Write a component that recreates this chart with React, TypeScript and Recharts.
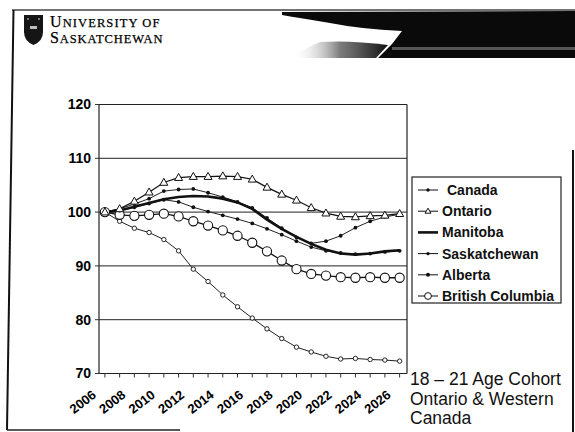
import React from 'react';
import { LineChart, Line, XAxis, YAxis, CartesianGrid, ReferenceLine } from 'recharts';

const years = [2006, 2007, 2008, 2009, 2010, 2011, 2012, 2013, 2014, 2015, 2016, 2017, 2018, 2019, 2020, 2021, 2022, 2023, 2024, 2025, 2026];
const canada = [100, 100.3, 100.9, 101.6, 102.3, 101.9, 100.9, 100.1, 99.4, 98.7, 97.9, 96.9, 95.8, 94.6, 93.5, 92.8, 92.4, 92.2, 92.3, 92.6, 92.8];
const ontario = [100, 100.6, 102.0, 103.7, 105.5, 106.4, 106.6, 106.6, 106.7, 106.6, 106.1, 104.6, 103.3, 102.2, 100.8, 99.8, 99.2, 99.1, 99.3, 99.4, 99.7];
const manitoba = [100, 100.3, 101.0, 101.7, 102.4, 102.8, 103.0, 102.9, 102.5, 101.8, 100.6, 98.6, 96.9, 95.4, 94.1, 93.0, 92.3, 92.1, 92.3, 92.7, 92.9];
const saskatchewan = [100, 98.3, 97.0, 96.2, 94.9, 92.8, 89.4, 87.1, 84.6, 82.4, 80.3, 78.3, 76.5, 74.9, 74.0, 73.2, 72.7, 72.8, 72.6, 72.5, 72.3];
const alberta = [100, 100.6, 101.5, 102.5, 103.9, 104.2, 104.3, 103.6, 102.8, 101.9, 100.8, 98.9, 97.0, 95.3, 94.2, 94.6, 95.6, 97.1, 98.3, 99.1, 99.6];
const britishColumbia = [100, 99.5, 99.3, 99.5, 99.7, 99.2, 98.3, 97.5, 96.6, 95.6, 94.3, 92.7, 91.0, 89.4, 88.5, 88.2, 87.9, 87.8, 87.9, 87.8, 87.8];

const yTicks = [70, 80, 90, 100, 110, 120];
const xLabelYears = [2006, 2008, 2010, 2012, 2014, 2016, 2018, 2020, 2022, 2024, 2026];
const legendNames = ['Canada', 'Ontario', 'Manitoba', 'Saskatchewan', 'Alberta', 'British Columbia'];
const noteLines = ['18 \u2013 21 Age Cohort', 'Ontario & Western', 'Canada'];

const data = years.map((y, i) => ({
  year: y,
  canada: canada[i],
  ontario: ontario[i],
  manitoba: manitoba[i],
  saskatchewan: saskatchewan[i],
  alberta: alberta[i],
  bc: britishColumbia[i],
}));

const FONT = '"Liberation Sans", Arial, Helvetica, sans-serif';
const SERIF = '"Liberation Serif", "Times New Roman", serif';

const smallFilled = (p: any) => (
  <circle key={`sf-${p.dataKey}-${p.index}`} cx={p.cx} cy={p.cy} r={1.9} fill="#111" stroke="none" />
);
const smallOpen = (p: any) => (
  <circle key={`so-${p.index}`} cx={p.cx} cy={p.cy} r={2.2} fill="#fff" stroke="#111" strokeWidth={0.9} />
);
const triangle = (p: any) => (
  <path
    key={`tr-${p.index}`}
    d={`M${p.cx},${p.cy - 4.2} L${p.cx + 4},${p.cy + 2.8} L${p.cx - 4},${p.cy + 2.8} Z`}
    fill="#fff"
    stroke="#111"
    strokeWidth={1}
  />
);
const bigCircle = (p: any) => (
  <circle key={`bc-${p.index}`} cx={p.cx} cy={p.cy} r={4.6} fill="#fff" stroke="#111" strokeWidth={1.1} />
);

const XTick = (props: any) => {
  const { x, y, payload } = props;
  if (!xLabelYears.includes(payload.value)) return null;
  const ax = x - 8;
  const ay = y + 17;
  return (
    <text
      x={ax}
      y={ay}
      transform={`rotate(-38, ${ax}, ${ay})`}
      textAnchor="end"
      fontFamily={FONT}
      fontWeight="bold"
      fontSize={13}
      fill="#000"
    >
      {payload.value}
    </text>
  );
};

const legendMarker = (i: number) => {
  const cx = 428;
  if (i === 0 || i === 3) return <circle cx={cx} cy={0} r={1.7} fill="#111" />;
  if (i === 4) return <circle cx={cx} cy={0} r={2} fill="#111" />;
  if (i === 1) return <path d={`M${cx},-3 L${cx + 3},2 L${cx - 3},2 Z`} fill="#fff" stroke="#111" strokeWidth={1} />;
  if (i === 5) return <circle cx={cx} cy={0} r={3.4} fill="#fff" stroke="#111" strokeWidth={1} />;
  return null;
};

export default function App() {
  return (
    <div style={{ position: 'fixed', left: 0, top: 0, width: 575, height: 432, background: '#fff', overflow: 'hidden' }}>
      <svg width={575} height={432} style={{ position: 'absolute', left: 0, top: 0 }}>
        <line x1={12} y1={10} x2={575} y2={10} stroke="#444" strokeWidth={1.5} />
        <line x1={13.5} y1={10} x2={7} y2={430} stroke="#111" strokeWidth={2} />
        <line x1={7} y1={430} x2={180} y2={430} stroke="#222" strokeWidth={1.6} />
        <line x1={573} y1={150} x2={573} y2={432} stroke="#111" strokeWidth={2} />
        <defs>
          <linearGradient id="sweep" x1="0" y1="0" x2="1" y2="0">
            <stop offset="0" stopColor="#fff" stopOpacity="0" />
            <stop offset="0.5" stopColor="#444" stopOpacity="0.7" />
            <stop offset="1" stopColor="#111" stopOpacity="1" />
          </linearGradient>
        </defs>
        <path d="M282,12 L575,11 L575,58 L378,58 L392,44 L402,31 Q360,29 330,23 Q300,18 282,15 Z" fill="#0a0a0a" />
        <path d="M292,58 L376,58 L388,45 Q350,40 320,42 Q300,50 292,58 Z" fill="url(#sweep)" />
        <rect x={392} y={47} width={183} height={3} fill="#555" />
        <path d="M24,15 L43,15 L43,32 Q43,41 33.5,45 Q24,41 24,32 Z" fill="#151515" />
        <rect x={30} y={26} width={7} height={3} fill="#bbb" />
        <circle cx={28} cy={19} r={1} fill="#999" />
        <circle cx={39} cy={19} r={1} fill="#999" />
        <text x={50} y={27} fontFamily={SERIF} fill="#000" stroke="#000" strokeWidth={0.25} letterSpacing={1.1}>
          <tspan fontSize={16}>U</tspan>
          <tspan fontSize={12.5}>NIVERSITY OF</tspan>
        </text>
        <text x={50} y={42.5} fontFamily={SERIF} fill="#000" stroke="#000" strokeWidth={0.25} letterSpacing={0.9}>
          <tspan fontSize={16}>S</tspan>
          <tspan fontSize={12.5}>ASKATCHEWAN</tspan>
        </text>
      </svg>

      <div style={{ position: 'absolute', left: 0, top: 0 }}>
        <LineChart width={575} height={432} data={data} margin={{ top: 104.5, right: 168, bottom: 8.5, left: 59 }}>
          <CartesianGrid vertical={false} stroke="#222" strokeWidth={1} />
          <XAxis
            dataKey="year"
            type="number"
            domain={[2005.6, 2026.5]}
            allowDataOverflow
            ticks={years}
            interval={0}
            tick={<XTick />}
            tickSize={4}
            tickMargin={2}
            height={50}
            axisLine={{ stroke: '#222', strokeWidth: 1.2 }}
            tickLine={{ stroke: '#333', strokeWidth: 1 }}
          />
          <YAxis
            domain={[70, 120]}
            ticks={yTicks}
            interval={0}
            width={40}
            tickSize={4}
            tickMargin={4}
            axisLine={{ stroke: '#222', strokeWidth: 1.2 }}
            tickLine={{ stroke: '#333' }}
            tick={{ fontFamily: FONT, fontWeight: 'bold', fontSize: 14, fill: '#000' }}
          />
          <ReferenceLine x={2026.5} stroke="#222" strokeWidth={1.2} ifOverflow="extendDomain" />
          <Line dataKey="saskatchewan" stroke="#222" strokeWidth={1} dot={smallOpen} isAnimationActive={false} />
          <Line dataKey="bc" stroke="#111" strokeWidth={1.3} dot={bigCircle} isAnimationActive={false} />
          <Line dataKey="canada" stroke="#222" strokeWidth={1} dot={smallFilled} isAnimationActive={false} />
          <Line dataKey="alberta" stroke="#222" strokeWidth={1} dot={smallFilled} isAnimationActive={false} />
          <Line dataKey="manitoba" stroke="#111" strokeWidth={2.6} dot={false} isAnimationActive={false} />
          <Line dataKey="ontario" stroke="#111" strokeWidth={1.2} dot={triangle} isAnimationActive={false} />
        </LineChart>
      </div>

      <svg width={575} height={432} style={{ position: 'absolute', left: 0, top: 0, pointerEvents: 'none' }}>
        <rect x={412} y={177} width={149} height={126} fill="#fff" stroke="#222" strokeWidth={1.2} />
        {legendNames.map((name, i) => {
          const cy = 190 + i * 21.2;
          return (
            <g key={name} transform={`translate(0, ${cy})`}>
              <line x1={418} y1={0} x2={438} y2={0} stroke="#111" strokeWidth={i === 2 ? 2.6 : 1} />
              {legendMarker(i)}
              <text x={i === 0 ? 447 : 442} y={5} fontFamily={FONT} fontWeight="bold" fontSize={14} fill="#111">
                {name}
              </text>
            </g>
          );
        })}
      </svg>

      <div style={{ position: 'absolute', left: 410, top: 370, fontFamily: FONT, fontSize: 17.5, lineHeight: '19.5px', color: '#111' }}>
        {noteLines.map((l) => (
          <div key={l}>{l}</div>
        ))}
      </div>
    </div>
  );
}
